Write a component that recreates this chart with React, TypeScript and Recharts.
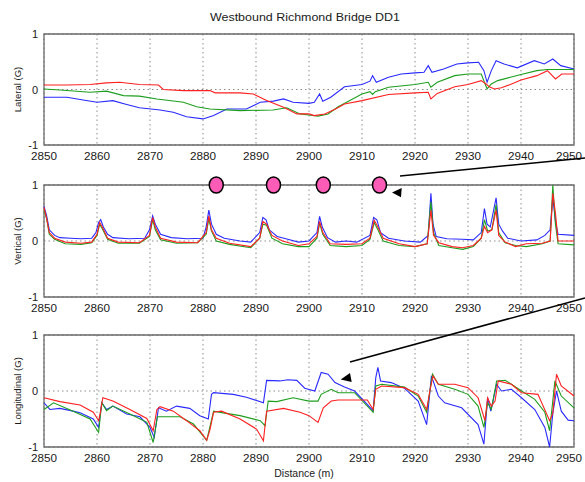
// three stacked acceleration traces along the bridge, matlab style
import { ComposedChart, Line, Scatter, XAxis, YAxis, CartesianGrid, ReferenceArea } from "recharts";

type Pt = [number, number];

const distanceTicks = [2850, 2860, 2870, 2880, 2890, 2900, 2910, 2920, 2930, 2940, 2950];
const gTicks = [-1, 0, 1];

const lateralRed: Pt[] = [
  [2850, 0.08], [2854.3, 0.08], [2858.7, 0.09], [2861.8, 0.12], [2864.3, 0.13], [2868, 0.09],
  [2871.6, 0.08], [2872.5, 0.0], [2876.3, -0.02], [2881.3, -0.02], [2882.3, -0.06], [2887, -0.06],
  [2889.5, -0.08], [2892, -0.2], [2895.2, -0.32], [2897.7, -0.44], [2900, -0.44], [2901, -0.47],
  [2903, -0.44], [2905, -0.35], [2906.7, -0.26], [2910, -0.2], [2915, -0.09], [2920, -0.06],
  [2922.5, -0.05], [2923, -0.17], [2924.2, -0.07], [2927.5, 0.05], [2930, 0.09], [2932.5, 0.16],
  [2933.4, 0.1], [2934, 0.05], [2935, 0.01], [2936.3, 0.03], [2938, 0.09], [2940, 0.17],
  [2943, 0.25], [2945, 0.34], [2946.5, 0.19], [2947.7, 0.28], [2950, 0.28],
];
const lateralGreen: Pt[] = [
  [2850, 0.01], [2853, -0.01], [2858.7, -0.05], [2861.8, -0.03], [2865, -0.11], [2868, -0.12],
  [2871.3, -0.17], [2876.3, -0.23], [2878.8, -0.31], [2881.3, -0.35], [2887, -0.38], [2893.2, -0.37],
  [2895.8, -0.33], [2898.3, -0.44], [2900, -0.46], [2901.7, -0.48], [2903.6, -0.44], [2905.5, -0.31],
  [2910, -0.08], [2911.5, -0.04], [2912, -0.09], [2912.5, -0.04], [2915, 0.04], [2920, 0.09],
  [2922.5, 0.13], [2923, 0.04], [2924.2, 0.13], [2927.5, 0.25], [2930, 0.28], [2932.5, 0.28],
  [2933.6, 0.01], [2934.4, 0.1], [2935.6, 0.16], [2938, 0.22], [2940, 0.27], [2943, 0.34],
  [2945, 0.36], [2950, 0.36],
];
const lateralBlue: Pt[] = [
  [2850, -0.14], [2854.3, -0.14], [2857.4, -0.19], [2860, -0.23], [2863, -0.2], [2865.6, -0.27],
  [2868, -0.33], [2871.9, -0.37], [2874.4, -0.41], [2876.9, -0.49], [2880, -0.53], [2882, -0.47],
  [2884.5, -0.35], [2888.2, -0.35], [2890.8, -0.23], [2893.3, -0.21], [2895.2, -0.17], [2897, -0.23],
  [2900, -0.25], [2901, -0.23], [2902, -0.08], [2902.6, -0.21], [2904.1, -0.14], [2906.7, 0.05],
  [2910, 0.09], [2911.5, 0.15], [2912, 0.25], [2912.7, 0.13], [2915, 0.22], [2917.4, 0.28],
  [2920, 0.3], [2921.7, 0.31], [2922.5, 0.43], [2923.2, 0.31], [2925.4, 0.37], [2927.9, 0.46],
  [2930, 0.48], [2932, 0.49], [2933, 0.34], [2933.6, 0.13], [2934.4, 0.34], [2935.3, 0.52],
  [2936.8, 0.46], [2939.3, 0.39], [2942.5, 0.52], [2944.4, 0.46], [2946, 0.55], [2947.5, 0.43],
  [2950, 0.37],
];

const verticalRed: Pt[] = [
  [2850, 0.6], [2850.5, 0.4], [2851, 0.15], [2852, 0.05], [2854, -0.02], [2857, -0.04], [2859, -0.02],
  [2860, 0.12], [2860.5, 0.33], [2861, 0.25], [2862, 0.05], [2864, -0.02], [2868, -0.03],
  [2869.9, 0.1], [2870.5, 0.42], [2871, 0.25], [2872, 0.05], [2875, -0.02], [2879, -0.03],
  [2880.6, 0.15], [2881.1, 0.45], [2881.6, 0.2], [2882.5, 0.05], [2885, -0.04], [2889, -0.1],
  [2890.7, 0.05], [2891.3, 0.35], [2892, 0.3], [2893, 0.1], [2895, 0.0], [2898, -0.08], [2900, -0.05],
  [2901.5, 0.08], [2902, 0.35], [2902.6, 0.15], [2904, -0.05], [2907, -0.06], [2910, -0.05],
  [2911.5, 0.05], [2912.3, 0.37], [2913, 0.25], [2914, 0.05], [2917, -0.05], [2920, -0.1],
  [2922.3, -0.05], [2923, 0.55], [2923.5, 0.1], [2924.5, -0.03], [2927, -0.1], [2929, -0.12],
  [2931, -0.08], [2932.5, 0.05], [2933.1, 0.26], [2933.7, 0.15], [2934.5, 0.2], [2935.3, 0.55],
  [2935.8, 0.1], [2937, -0.02], [2939, -0.1], [2941, -0.05], [2944, -0.04], [2945.5, 0.0],
  [2946, 0.85], [2946.5, 0.5], [2947, 0.0], [2950, 0.0],
];
const verticalGreen: Pt[] = [
  [2850, 0.55], [2850.5, 0.4], [2851, 0.12], [2852, 0.03], [2854, -0.05], [2857, -0.06], [2859, -0.03],
  [2860, 0.1], [2860.5, 0.3], [2861, 0.22], [2862, 0.03], [2864, -0.04], [2868, -0.04],
  [2869.9, 0.08], [2870.5, 0.38], [2871, 0.2], [2872, 0.02], [2875, -0.04], [2879, -0.03],
  [2880.6, 0.12], [2881.1, 0.4], [2881.6, 0.18], [2882.5, 0.0], [2885, -0.06], [2889, -0.12],
  [2890.7, 0.05], [2891.3, 0.3], [2892, 0.28], [2893, 0.05], [2895, -0.05], [2898, -0.1], [2900, -0.1],
  [2901.5, 0.05], [2902, 0.32], [2902.6, 0.12], [2904, -0.08], [2907, -0.1], [2910, -0.08],
  [2911.5, 0.03], [2912.3, 0.33], [2913, 0.2], [2914, 0.0], [2917, -0.08], [2920, -0.1],
  [2922.3, -0.05], [2923, 0.7], [2923.5, 0.15], [2924.5, -0.08], [2927, -0.12], [2929, -0.15],
  [2931, -0.1], [2932.5, 0.05], [2933.1, 0.38], [2933.7, 0.18], [2934.5, 0.2], [2935.3, 0.65],
  [2935.8, 0.15], [2937, -0.03], [2939, -0.08], [2941, -0.1], [2944, -0.05], [2945.5, 0.0],
  [2946, 1.0], [2946.5, 0.3], [2947, -0.05], [2950, -0.07],
];
const verticalBlue: Pt[] = [
  [2850, 0.62], [2850.5, 0.45], [2851, 0.2], [2852, 0.1], [2853, 0.06], [2855, 0.05], [2857, 0.04],
  [2859, 0.05], [2859.8, 0.15], [2860.3, 0.33], [2860.7, 0.38], [2861.2, 0.25], [2862, 0.12],
  [2863, 0.06], [2866, 0.04], [2869, 0.05], [2869.9, 0.2], [2870.5, 0.45], [2871, 0.3], [2872, 0.12],
  [2874, 0.06], [2877, 0.04], [2880, 0.05], [2880.6, 0.25], [2881.1, 0.55], [2881.6, 0.3],
  [2882.5, 0.12], [2884, 0.05], [2887, 0.0], [2889, -0.02], [2890.7, 0.15], [2891.3, 0.42],
  [2891.9, 0.38], [2892.5, 0.2], [2894, 0.08], [2896, 0.03], [2898, -0.02], [2900, 0.0],
  [2901.5, 0.15], [2902, 0.44], [2902.5, 0.25], [2903.5, 0.06], [2905, -0.02], [2907, 0.0],
  [2909, -0.02], [2911.5, 0.1], [2912.2, 0.42], [2912.8, 0.38], [2913.5, 0.15], [2915, 0.05],
  [2918, 0.0], [2921, -0.02], [2922.5, 0.1], [2923, 0.85], [2923.4, 0.3], [2924, 0.08], [2926, 0.04],
  [2929, 0.03], [2931, 0.02], [2932.5, 0.15], [2933.1, 0.58], [2933.6, 0.3], [2934.2, 0.25],
  [2935.3, 0.77], [2935.8, 0.3], [2936.5, 0.18], [2937.5, 0.05], [2940, 0.0], [2943, 0.02],
  [2944.5, 0.1], [2945.5, 0.2], [2946, 0.78], [2946.5, 0.35], [2947, 0.12], [2950, 0.1],
];

const longRed: Pt[] = [
  [2850, -0.12], [2853, -0.19], [2856.8, -0.25], [2859.3, -0.38], [2860.3, -0.53], [2860.6, -0.4],
  [2861.1, -0.12], [2863, -0.18], [2866.2, -0.33], [2869.4, -0.49], [2870.6, -0.71], [2871.3, -0.33],
  [2871.9, -0.28], [2874.4, -0.36], [2876.9, -0.53], [2879.4, -0.71], [2880.7, -0.88], [2881.3, -0.7],
  [2882, -0.38], [2883.5, -0.36], [2887, -0.5], [2890.1, -0.68], [2891.4, -0.89], [2892, -0.36],
  [2895.2, -0.31], [2898.3, -0.38], [2900, -0.44], [2901.7, -0.56], [2902.7, -0.3], [2904.2, -0.18],
  [2905.5, -0.16], [2911, -0.16], [2912.1, -0.33], [2912.6, 0.03], [2913.7, 0.09], [2918, 0.06],
  [2920.6, -0.06], [2922.2, -0.33], [2922.8, 0.0], [2923.4, 0.27], [2924.4, 0.12], [2927.5, 0.12],
  [2930, 0.06], [2931.9, -0.12], [2933.2, -0.53], [2933.7, -0.12], [2934.4, -0.27], [2935.1, -0.18],
  [2935.7, 0.18], [2938.2, 0.12], [2940.1, -0.03], [2943.2, -0.06], [2945.4, -0.53], [2946, -0.4],
  [2946.7, 0.3], [2947.6, 0.09], [2950, -0.09],
];
const longGreen: Pt[] = [
  [2850, -0.33], [2851.8, -0.21], [2855.5, -0.36], [2858.7, -0.5], [2860.3, -0.74], [2860.9, -0.21],
  [2861.8, -0.35], [2863, -0.27], [2866.9, -0.44], [2869.4, -0.56], [2870.6, -0.92], [2871.4, -0.46],
  [2875.7, -0.46], [2878.2, -0.59], [2880.7, -0.88], [2882, -0.36], [2883.8, -0.39], [2887, -0.44],
  [2890.8, -0.53], [2891.7, -0.62], [2892.3, -0.18], [2893.9, -0.19], [2897, -0.12], [2900, -0.18],
  [2901.7, -0.18], [2902.3, -0.06], [2904.2, 0.03], [2905.5, -0.03], [2908.6, -0.03], [2912.1, -0.38],
  [2912.6, 0.09], [2913.7, 0.12], [2918, 0.07], [2920.6, -0.09], [2922.2, -0.38], [2923.3, 0.3],
  [2924.4, 0.12], [2927.5, 0.03], [2930, -0.06], [2931.9, -0.27], [2933, -0.65], [2933.7, -0.21],
  [2934.4, -0.33], [2935.4, 0.18], [2937, 0.19], [2938.2, 0.12], [2940.1, 0.0], [2942.6, -0.15],
  [2944.5, -0.38], [2945.4, -0.71], [2946.4, 0.18], [2947.6, -0.09], [2950, -0.3],
];
const longBlue: Pt[] = [
  [2850, -0.21], [2851.1, -0.33], [2853, -0.31], [2855.5, -0.36], [2856.8, -0.39], [2859.3, -0.5],
  [2860.3, -0.65], [2860.9, -0.21], [2861.8, -0.33], [2863, -0.27], [2865.6, -0.41], [2868.1, -0.46],
  [2870, -0.65], [2870.8, -0.83], [2871.6, -0.3], [2873.1, -0.36], [2875, -0.27], [2877.5, -0.31],
  [2879.4, -0.44], [2881, -0.5], [2881.6, -0.06], [2882, -0.03], [2885.7, -0.06], [2888.2, -0.11],
  [2891.4, -0.21], [2892, 0.19], [2894.5, 0.18], [2896, 0.2], [2897.7, 0.19], [2899.2, 0.05],
  [2901.1, 0.0], [2902.3, 0.33], [2903.6, 0.3], [2904.9, 0.15], [2906.7, 0.07], [2908.6, 0.0],
  [2912.1, -0.35], [2912.6, 0.24], [2913, 0.42], [2913.5, 0.18], [2915.5, 0.15], [2918, 0.05],
  [2920.6, -0.18], [2922.2, -0.6], [2923.1, 0.27], [2924.4, -0.09], [2925.6, -0.21], [2928.8, -0.3],
  [2931.9, -0.6], [2933, -0.95], [2933.7, -0.12], [2934.3, -0.36], [2935.4, 0.12], [2936.3, 0.0],
  [2938.2, 0.03], [2940.1, -0.12], [2942.6, -0.33], [2944.5, -0.65], [2945.4, -1.0], [2946, -0.4],
  [2946.7, 0.0], [2947.6, -0.36], [2948.9, -0.52], [2950, -0.53],
];

// pink markers sitting on top of the vertical panel
const markerDistances = [2882.5, 2893.3, 2902.7, 2913.3];
const markerLevel = 1;

const RED = "#ff2020";
const GREEN = "#1e9e1e";
const BLUE = "#2a2aff";
const FONT = "Arial, 'Liberation Sans', sans-serif";

const toPoints = (arr: Pt[]) => arr.map(([d, g]) => ({ d, g }));

const XTick = (props: any) => {
  const { x, y, payload } = props;
  return (
    <text x={x} y={y + 7} textAnchor="middle" fontSize={10} fontFamily={FONT} fill="#1a1a1a"
      textLength={26} lengthAdjust="spacingAndGlyphs">
      {payload.value}
    </text>
  );
};

const YTick = (props: any) => {
  const { x, y, payload } = props;
  return (
    <text x={x} y={y + 4} textAnchor="end" fontSize={11} fontFamily={FONT} fill="#1a1a1a">
      {payload.value}
    </text>
  );
};

const yTitle = (text: string) => (props: any) => {
  const vb = props.viewBox ?? {};
  const cx = 17;
  const cy = (vb.y ?? 0) + (vb.height ?? 0) / 2;
  return (
    <text x={cx} y={cy} transform={`rotate(-90 ${cx} ${cy})`} textAnchor="middle" dominantBaseline="central"
      fontSize={9.5} fontFamily={FONT} fill="#1a1a1a">
      {text}
    </text>
  );
};

const xTitle = (props: any) => {
  const vb = props.viewBox ?? {};
  const cx = (vb.x ?? 44) + (vb.width ?? 530) / 2 - 5;
  const cy = (vb.y ?? 130) + 30;
  return (
    <text x={cx} y={cy} textAnchor="middle" fontSize={10.5} fontFamily={FONT} fill="#1a1a1a">
      Distance (m)
    </text>
  );
};

const Marker = (props: any) => (
  <ellipse cx={props.cx} cy={props.cy} rx={7} ry={8} fill="#ff5cb8" stroke="#000" strokeWidth={1.5} />
);

interface PanelProps {
  top: number;
  height: number;
  marginTop: number;
  xHeight: number;
  label: string;
  red: Pt[];
  green: Pt[];
  blue: Pt[];
  markers?: boolean;
  xLabel?: boolean;
}

const Panel = ({ top, height, marginTop, xHeight, label, red, green, blue, markers, xLabel }: PanelProps) => (
  <div style={{ position: "absolute", left: 0, top }}>
    <ComposedChart width={585} height={height} margin={{ top: marginTop, right: 11, bottom: 0, left: 0 }}>
      <CartesianGrid stroke="#8c8c8c" strokeDasharray="1.5 3" />
      <XAxis dataKey="d" type="number" domain={[2850, 2950]} ticks={distanceTicks}
        height={xHeight} axisLine={false} tickLine={false} tick={<XTick />} label={xLabel ? xTitle : undefined} />
      <YAxis type="number" domain={[-1, 1]} ticks={gTicks} width={44} axisLine={false}
        tickLine={false} tickSize={2} tickMargin={4} tick={<YTick />} label={yTitle(label)} />
      <ReferenceArea x1={2850} x2={2950} y1={-1} y2={1} fill="none" stroke="#6a6a6a" strokeWidth={1.3} />
      <Line data={toPoints(blue)} dataKey="g" stroke={BLUE} strokeWidth={1.1} dot={false} activeDot={false} isAnimationActive={false} />
      <Line data={toPoints(green)} dataKey="g" stroke={GREEN} strokeWidth={1.1} dot={false} activeDot={false} isAnimationActive={false} />
      <Line data={toPoints(red)} dataKey="g" stroke={RED} strokeWidth={1.1} dot={false} activeDot={false} isAnimationActive={false} />
      {markers && (
        <Scatter data={markerDistances.map((d) => ({ d, g: markerLevel }))} dataKey="g" shape={<Marker />}
          isAnimationActive={false} />
      )}
    </ComposedChart>
  </div>
);

export default function App() {
  return (
    <div style={{ position: "absolute", left: 0, top: 0, width: 585, height: 482, background: "#fff" }}>
      <Panel top={0} height={165} marginTop={34} xHeight={20} label="Lateral (G)"
        red={lateralRed} green={lateralGreen} blue={lateralBlue} />
      <Panel top={165} height={152} marginTop={20} xHeight={20} label="Vertical (G)"
        red={verticalRed} green={verticalGreen} blue={verticalBlue} markers />
      <Panel top={317} height={165} marginTop={18} xHeight={35} label="Longitudinal (G)"
        red={longRed} green={longGreen} blue={longBlue} xLabel />
      <svg width={585} height={482} style={{ position: "absolute", left: 0, top: 0, pointerEvents: "none" }}>
        <text x={305} y={21} textAnchor="middle" fontSize={10.5} fontFamily={FONT} fill="#1a1a1a"
          textLength={190} lengthAdjust="spacingAndGlyphs">
          Westbound Richmond Bridge DD1
        </text>
        <line x1={400} y1={176} x2={585} y2={158} stroke="#000" strokeWidth={1.6} />
        <polygon points="392,192.5 401.7,188 401,197.3" fill="#000" />
        <line x1={350} y1={362} x2={585} y2={298} stroke="#000" strokeWidth={1.6} />
        <polygon points="340.7,379.5 350,373 351.7,382" fill="#000" />
      </svg>
    </div>
  );
}
